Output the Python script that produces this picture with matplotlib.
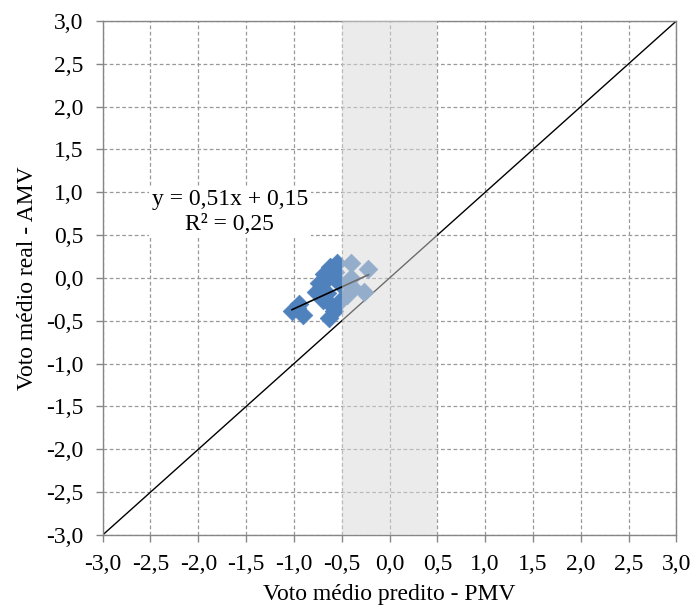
import matplotlib
matplotlib.use('Agg')
import matplotlib.pyplot as plt
import numpy as np

plt.rcParams['font.family'] = ['Liberation Serif', 'DejaVu Serif']

# votos preditos (PMV) e reais (AMV)
pmv = [-1.02, -0.95, -0.90, -0.62, -0.57, -0.69, -0.74, -0.77, -0.65, -0.62,
       -0.70, -0.58, -0.63, -0.53, -0.51, -0.55, -0.97, -0.66,
       -0.40, -0.22, -0.40, -0.38, -0.27, -0.45]
amv = [-0.38, -0.30, -0.43, 0.13, 0.07, 0.05, -0.06, -0.16, -0.18, -0.30,
       -0.26, -0.39, -0.47, -0.06, -0.26, 0.17, -0.35, -0.02,
       0.17, 0.10, 0.00, -0.12, -0.16, -0.20]

slope, intercept, r2 = 0.51, 0.15, 0.25
ticks = np.arange(-3.0, 3.01, 0.5)
tick_labels = [('%.1f' % t).replace('.', ',') for t in ticks]
faixa = (-0.5, 0.5)

fig = plt.figure(figsize=(6.92, 6.10), dpi=100)
ax = fig.add_axes([0.1484, 0.123, 0.829, 0.8426])

ax.plot([-3, 3], [-3, 3], color='black', lw=1.0, zorder=2)
ax.scatter(pmv, amv, marker='D', s=90, color='#4F81BD', edgecolor='#4F81BD',
           lw=0.5, zorder=3)
xl = np.array([min(pmv), max(pmv)])
ax.plot(xl, slope * xl + intercept, color='black', lw=1.2, zorder=4)
# faixa de conforto
ax.axvspan(faixa[0], faixa[1], color='#D9D9D9', alpha=0.5, lw=0, zorder=5)

ax.set_xlim(-3, 3)
ax.set_ylim(-3, 3)
ax.set_xticks(ticks)
ax.set_yticks(ticks)
ax.set_xticklabels(tick_labels, fontsize=17)
ax.set_yticklabels(tick_labels, fontsize=17)
ax.grid(True, color='#999999', ls=(0, (3, 2)), lw=0.9, zorder=0)
ax.set_axisbelow(True)
for s in ax.spines.values():
    s.set_color('#868686')
    s.set_linewidth(1.0)
ax.tick_params(direction='out', length=5, color='#868686', width=1.0)
ax.tick_params(axis='y', pad=9)
ax.tick_params(axis='x', pad=9)

eq = 'y = %sx + %s\nR² = %s' % (('%.2f' % slope).replace('.', ','),
                                ('%.2f' % intercept).replace('.', ','),
                                ('%.2f' % r2).replace('.', ','))
ax.text(-1.67, 0.77, eq, ha='center', va='center', fontsize=17,
        linespacing=1.2, multialignment='center', zorder=6,
        bbox=dict(facecolor='white', edgecolor='none', pad=2))

ax.set_xlabel('Voto médio predito - PMV', fontsize=17, labelpad=6)
ax.set_ylabel('Voto médio real - AMV', fontsize=17, labelpad=6)

fig.savefig('out.png', dpi=100)
